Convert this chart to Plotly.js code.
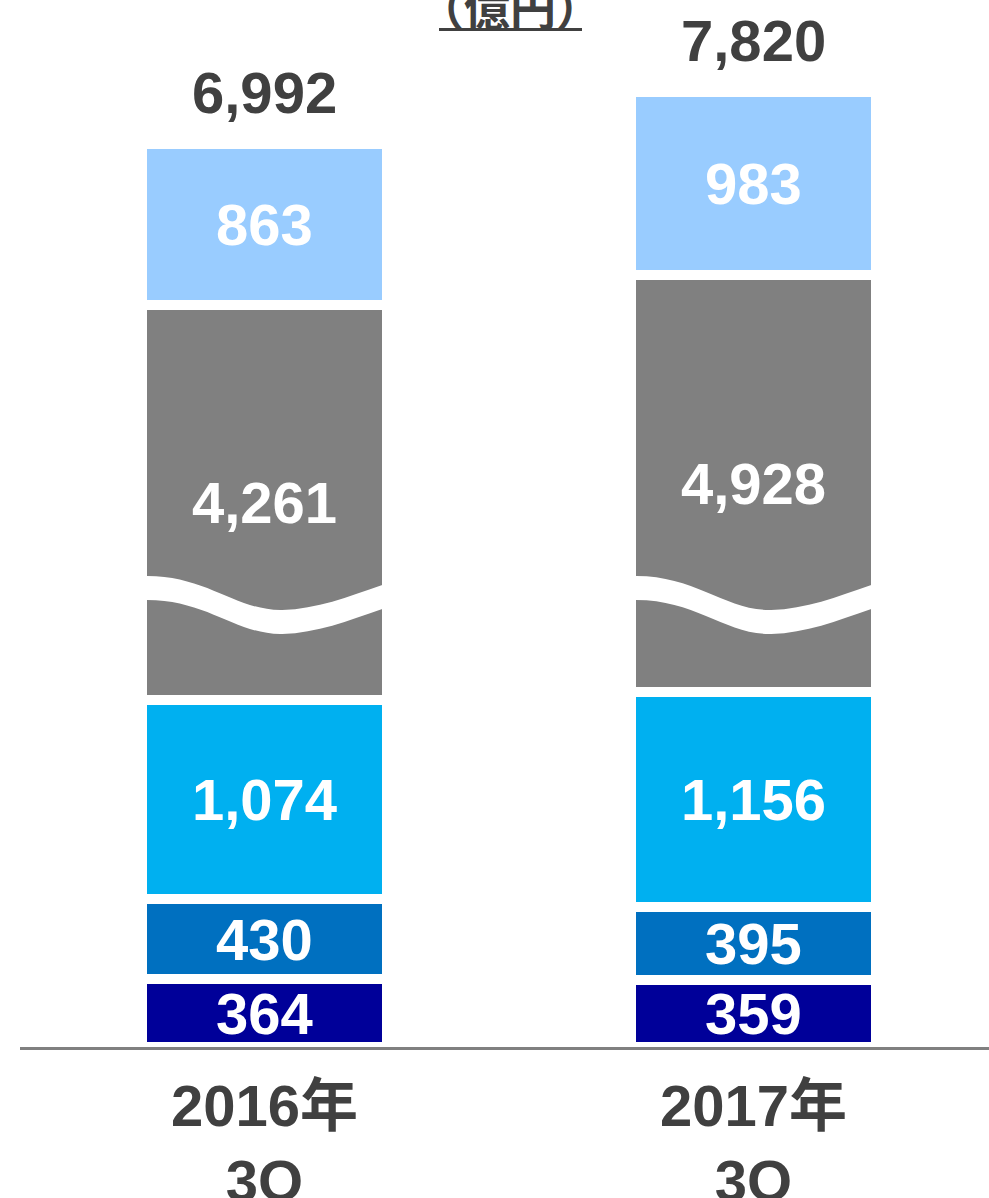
<!DOCTYPE html>
<html>
<head>
<meta charset="utf-8">
<script src="https://cdn.plot.ly/plotly-3.0.1.min.js"></script>
<style>html,body{margin:0;padding:0;background:#fff;}#chart{width:989px;height:1198px;}</style>
</head>
<body>
<div id="chart"></div>
<script>
// ---- data (億円) ----
var categories = ['2016年<br>3Q', '2017年<br>3Q'];
var seg1 = [364, 359];     // bottom (navy)
var seg2 = [430, 395];     // blue
var seg3 = [1074, 1156];   // cyan
var seg4 = [4261, 4928];   // gray (drawn through an axis break)
var seg4Drawn = [2128, 2246]; // drawn height of the broken gray segments
var seg5 = [863, 983];     // light blue (top)
var totals = [6992, 7820];
var unitTitle = '（億円）';

var colors = ['#000099', '#0070C0', '#00B0F0', '#808080', '#99CCFF'];
var FONT = 'Liberation Sans, Arial, Noto Sans CJK JP, sans-serif';
var fmt = function (v) { return v.toLocaleString('en-US'); };

function barTrace(drawn, labels, color) {
  return {
    type: 'bar', x: categories, y: drawn,
    text: labels.map(fmt), textposition: 'inside', insidetextanchor: 'middle',
    textangle: 0, constraintext: 'none',
    textfont: {family: FONT, size: 58, color: '#ffffff', weight: 'bold'},
    marker: {color: color, line: {color: '#ffffff', width: 10}},
    width: 0.5, hoverinfo: 'skip', showlegend: false
  };
}

var traces = [
  barTrace(seg1, seg1, colors[0]),
  barTrace(seg2, seg2, colors[1]),
  barTrace(seg3, seg3, colors[2]),
  barTrace(seg4Drawn, seg4, colors[3]),
  barTrace(seg5, seg5, colors[4])
];

// scale used by layout: px per unit
var plotH = 1047, pxPerUnit = 0.1858;
var yMax = plotH / pxPerUnit;
function pyToData(py) { return (plotH - py) / pxPerUnit; }

// wavy break band across the gray segment (decoration)
function wavePath(i) {
  var pxPerCat = 489;
  var left = i - 0.25 + 5 / pxPerCat; // visible left edge of bar
  function X(u) { return (left + u / pxPerCat).toFixed(5); }
  function Y(py) { return pyToData(py).toFixed(2); }
  var d = 24;
  var p = 'M' + X(-12) + ',' + Y(576) + ' L' + X(0) + ',' + Y(576) +
    ' C' + X(60) + ',' + Y(576) + ' ' + X(90) + ',' + Y(611) + ' ' + X(135) + ',' + Y(610) +
    ' C' + X(170) + ',' + Y(609) + ' ' + X(200) + ',' + Y(597) + ' ' + X(235) + ',' + Y(585) +
    ' L' + X(247) + ',' + Y(581) +
    ' L' + X(247) + ',' + Y(581 + d) + ' L' + X(235) + ',' + Y(585 + d) +
    ' C' + X(200) + ',' + Y(597 + d) + ' ' + X(170) + ',' + Y(609 + d) + ' ' + X(135) + ',' + Y(610 + d) +
    ' C' + X(90) + ',' + Y(611 + d) + ' ' + X(60) + ',' + Y(576 + d) + ' ' + X(0) + ',' + Y(576 + d) +
    ' L' + X(-12) + ',' + Y(576 + d) + ' Z';
  return {type: 'path', xref: 'x', yref: 'y', path: p, fillcolor: '#ffffff', line: {width: 0}, layer: 'above'};
}

var drawnTotals = categories.map(function (c, i) {
  return seg1[i] + seg2[i] + seg3[i] + seg4Drawn[i] + seg5[i];
});

var annotations = categories.map(function (c, i) {
  return {
    x: i, y: drawnTotals[i], xref: 'x', yref: 'y', text: fmt(totals[i]),
    showarrow: false, yanchor: 'bottom', yshift: 17,
    font: {family: FONT, size: 58, color: '#404040', weight: 'bold'}
  };
});
annotations.push({
  x: (510.5 - 20) / 969, y: (plotH - 5) / plotH, xref: 'paper', yref: 'paper',
  text: unitTitle, showarrow: false, xanchor: 'center', yanchor: 'middle',
  font: {family: 'Noto Sans CJK JP, sans-serif', size: 46, color: '#404040', weight: 'bold'}
});

var shapes = [wavePath(0), wavePath(1), {
  type: 'line', xref: 'paper', yref: 'paper',
  x0: (439 - 20) / 969, x1: (582 - 20) / 969,
  y0: (plotH - 29.5) / plotH, y1: (plotH - 29.5) / plotH,
  line: {color: '#404040', width: 3}
}];

var layout = {
  width: 989, height: 1198,
  margin: {l: 20, r: 0, t: 0, b: 1198 - plotH},
  paper_bgcolor: '#ffffff', plot_bgcolor: '#ffffff',
  barmode: 'stack', bargap: 0,
  showlegend: false,
  xaxis: {
    type: 'category', range: [-0.5, -0.5 + 969 / 489],
    showline: true, linecolor: '#808080', linewidth: 3,
    showgrid: false, zeroline: false, fixedrange: true,
    ticks: 'outside', ticklen: 6, tickcolor: 'rgba(0,0,0,0)',
    tickfont: {family: FONT, size: 58, color: '#404040', weight: 'bold'}
  },
  yaxis: {
    range: [0, yMax], visible: false, showgrid: false, zeroline: false, fixedrange: true
  },
  annotations: annotations,
  shapes: shapes
};

Plotly.newPlot('chart', traces, layout, {displayModeBar: false, staticPlot: true});
</script>
</body>
</html>
